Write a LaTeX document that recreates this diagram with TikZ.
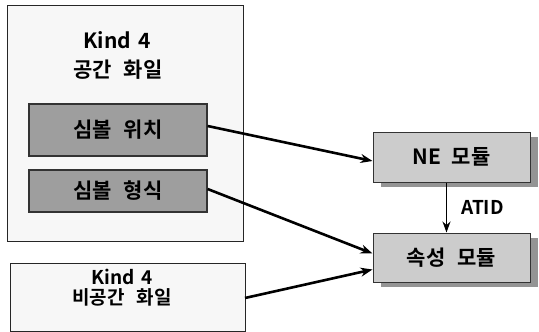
\documentclass[tikz,border=0pt]{standalone}
\usepackage{fontspec}
\setmainfont{Noto Sans CJK KR}[BoldFont={Noto Sans CJK KR Bold}]
\usetikzlibrary{arrows.meta}
\newcommand{\wgap}{\hspace{12pt}}
\begin{document}
\begin{tikzpicture}[x=1pt,y=-1pt,
  outer/.style={draw=black!85,line width=1pt,fill=black!3},
  inner/.style={draw=black!80,line width=1.2pt,fill=black!38},
  module/.style={draw=black!80,line width=1pt,fill=black!20},
  shadowbox/.style={fill=black!42,draw=none},
  lbl/.style={font=\fontsize{21}{25}\selectfont\bfseries,align=center,inner sep=0pt},
  conn/.style={line width=2.6pt,-{Stealth[length=12pt,width=9pt]}},
  vconn/.style={line width=1.6pt,-{Stealth[length=11pt,width=8pt]}}]
\useasboundingbox (0,0) rectangle (539,332);
\fill[white] (0,0) rectangle (539,332);
% outer boxes
\draw[outer] (7,5) rectangle (243,241);
\node[lbl] (k1) at (117,40) {Kind\hspace{2pt} 4};
\node[lbl] (s1) at (118,70) {공간\wgap 화일};
\draw[outer] (10,263) rectangle (245,331);
\node[lbl,font=\fontsize{19}{20}\selectfont\bfseries] (t2) at (122,288) {Kind\hspace{2pt} 4\\비공간\wgap 화일};
\coordinate (b2r) at (245,298);
% inner boxes
\node[inner,minimum width=178pt,minimum height=52pt,lbl] (pos) at (118,130) {심볼\wgap 위치};
\node[inner,minimum width=178pt,minimum height=42pt,lbl] (fmt) at (118,191) {심볼\wgap 형식};
% modules with shadow
\fill[shadowbox] (381,137) rectangle (538,187);
\node[module,minimum width=157pt,minimum height=50pt,lbl] (ne) at (451.5,157) {NE\hspace{6pt} 모듈};
\fill[shadowbox] (381,238) rectangle (538,287);
\node[module,minimum width=157pt,minimum height=49pt,lbl] (attr) at (451.5,257.5) {속성\wgap 모듈};
% connectors
\draw[conn] ([yshift=4pt]pos.east) -- ([yshift=-4pt]ne.west);
\draw[conn] ([yshift=2pt]fmt.east) -- ([yshift=4pt]attr.west);
\draw[conn] (b2r) -- ([yshift=-12pt]attr.west);
\draw[vconn] ([xshift=-5pt]ne.south) -- node[right=14pt,lbl,font=\fontsize{19}{20}\selectfont\bfseries] (atid) {ATID} ([xshift=-5pt]attr.north);
\end{tikzpicture}
\end{document}
